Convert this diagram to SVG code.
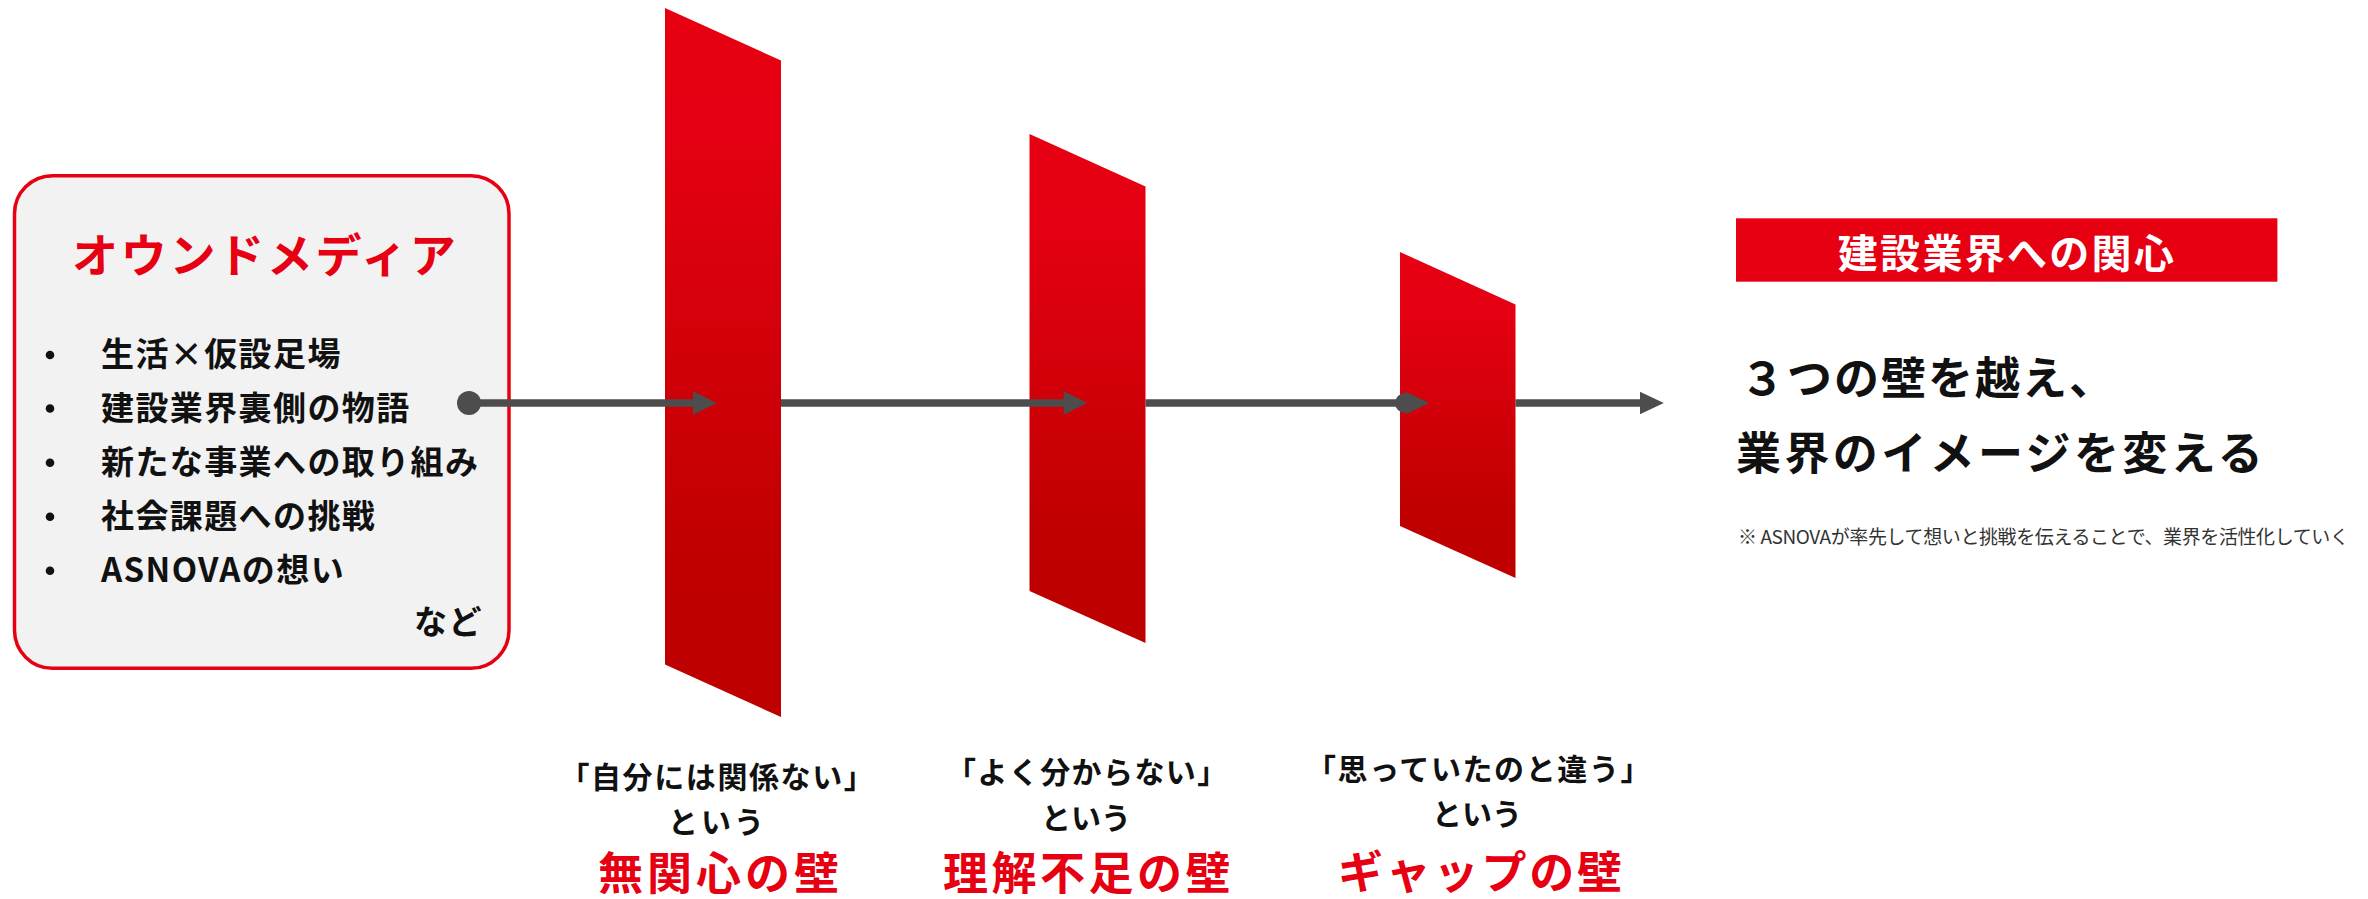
<svg xmlns="http://www.w3.org/2000/svg" width="2368" height="899" viewBox="0 0 2368 899">
<defs>
<linearGradient id="wallGrad" x1="0" y1="0" x2="0" y2="1">
<stop offset="0" stop-color="#E60012"/>
<stop offset="0.18" stop-color="#E40012"/>
<stop offset="0.78" stop-color="#C00000"/>
<stop offset="1" stop-color="#BE0000"/>
</linearGradient>
<style>
text{font-family:"Noto Sans CJK JP","Noto Sans CJK SC",sans-serif;}
.wall{fill:url(#wallGrad);}
.ttl{font-size:46px;font-weight:700;fill:#E60012;letter-spacing:2.7px;}
.item{font-size:33px;font-weight:700;fill:#111;letter-spacing:1.4px;}
.bul{fill:#111;}
.cap{font-size:30px;font-weight:700;fill:#111;letter-spacing:1.6px;}
.iu{font-size:30px;font-weight:700;fill:#111;letter-spacing:0px;}
.red{font-size:45px;font-weight:700;fill:#E60012;}
.conn{stroke:#4D4D4D;stroke-width:7.3;fill:none;}
.ah{fill:#4D4D4D;}
.big{font-size:45px;font-weight:700;fill:#111;letter-spacing:2px;}
.note{font-size:19px;font-weight:400;fill:#333;letter-spacing:-0.4px;}
</style>
</defs>
<rect width="2368" height="899" fill="#FFFFFF"/>

<g id="owned-media">
<rect x="14.5" y="175.7" width="494.5" height="492.6" rx="38" ry="38" fill="#F2F2F2" stroke="#E60012" stroke-width="3.5"/>
<text class="ttl" x="72" y="272">オウンドメディア</text>
<circle class="bul" cx="50" cy="355" r="4.3"/>
<circle class="bul" cx="50" cy="408.5" r="4.3"/>
<circle class="bul" cx="50" cy="462.7" r="4.3"/>
<circle class="bul" cx="50" cy="516.7" r="4.3"/>
<circle class="bul" cx="50" cy="570.7" r="4.3"/>
<text class="item" x="101" y="366">生活×仮設足場</text>
<text class="item" x="101" y="420">建設業界裏側の物語</text>
<text class="item" x="101" y="474">新たな事業への取り組み</text>
<text class="item" x="101" y="528">社会課題への挑戦</text>
<text class="item" x="101" y="582">ASNOVAの想い</text>
<text class="item" x="414" y="634">など</text>
</g>

<g id="wall-1">
<polygon class="wall" points="665,8 781,60.5 781,717 665,664.5"/>
</g>
<g id="wall-2">
<polygon class="wall" points="1029.5,134 1145.5,186.5 1145.5,643 1029.5,591"/>
</g>
<g id="wall-3">
<polygon class="wall" points="1400,252 1515.5,304.5 1515.5,578 1400,526"/>
</g>

<g id="connectors">
<circle class="ah" cx="469" cy="403" r="12"/>
<line class="conn" x1="469" y1="403" x2="694" y2="403"/>
<polygon class="ah" points="693,391.3 716.8,403 693,414.7"/>
<line class="conn" x1="781" y1="403" x2="1065" y2="403"/>
<polygon class="ah" points="1063.7,391.3 1087.3,403 1063.7,414.7"/>
<line class="conn" x1="1145.5" y1="403" x2="1407" y2="403"/>
<circle class="ah" cx="1405" cy="403" r="10"/>
<polygon class="ah" points="1405.7,391.7 1429.5,403 1405.7,414.3"/>
<line class="conn" x1="1515.5" y1="403" x2="1641" y2="403"/>
<polygon class="ah" points="1640,391.7 1663.8,403 1640,414.3"/>
</g>

<g id="label-1">
<text class="cap" x="559.4" y="788">「自分には関係ない」</text>
<text class="iu" x="668" y="833" style="letter-spacing:3px">という</text>
<text class="red" x="598" y="889.5" style="letter-spacing:4px">無関心の壁</text>
</g>
<g id="label-2">
<text class="cap" x="946" y="783" style="letter-spacing:1.4px">「よく分からない」</text>
<text class="iu" x="1041" y="829">という</text>
<text class="red" x="943" y="889.5" style="letter-spacing:3.5px">理解不足の壁</text>
</g>
<g id="label-3">
<text class="cap" x="1306" y="780" style="letter-spacing:1.6px">「思っていたのと違う」</text>
<text class="iu" x="1432" y="825">という</text>
<text class="red" x="1338" y="889" style="letter-spacing:2.8px">ギャップの壁</text>
</g>

<g id="goal">
<rect x="1736" y="218.3" width="541.4" height="63.4" fill="#E60012"/>
<text x="2007" y="268" text-anchor="middle" style="font-size:40px;font-weight:700;fill:#FFFFFF;letter-spacing:2.3px">建設業界への関心</text>
<text class="big" x="1740" y="395">３つの壁を越え、</text>
<text class="big" x="1736" y="470" style="letter-spacing:3.4px">業界のイメージを変える</text>
<text class="note" x="1738" y="544">※ ASNOVAが率先して想いと挑戦を伝えることで、業界を活性化していく</text>
</g>
</svg>
